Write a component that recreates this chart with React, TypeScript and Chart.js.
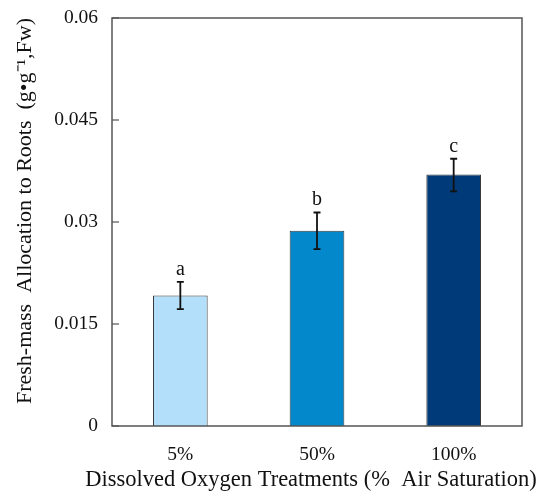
import { useEffect, useRef } from "react";
import { Chart, registerables, Plugin } from "chart.js";

Chart.register(...registerables);

const categories = ["5%", "50%", "100%"];
const means = [0.0192, 0.0287, 0.0370];
const errLow = [0.0172, 0.0260, 0.0345];
const errHigh = [0.0212, 0.0314, 0.0393];
const groupLetters = ["a", "b", "c"];
const barColors = ["#b3dffa", "#0388cc", "#003a78"];
const yTicks = ["0", "0.015", "0.03", "0.045", "0.06"];
const xTitle = "Dissolved Oxygen Treatments (%  Air Saturation)";
const yTitle = "Fresh-mass  Allocation to Roots  (g\u2022g\u207B\u00B9,Fw)";

const SERIF = "'Liberation Serif', 'Times New Roman', serif";

// frame, inward y ticks, error bars, letters and both axis titles
// (Chart.js squeezes axis titles to the axis width, the original overhangs it)
const extras: Plugin<"bar"> = {
  id: "extras",
  afterDatasetsDraw(chart) {
    const { ctx, chartArea, scales } = chart;
    const x = scales.x;
    const y = scales.y;
    ctx.save();

    ctx.strokeStyle = "#555";
    ctx.lineWidth = 1.5;
    ctx.strokeRect(chartArea.left, chartArea.top, chartArea.right - chartArea.left, chartArea.bottom - chartArea.top);

    ctx.lineWidth = 1.2;
    y.ticks.forEach((t) => {
      const py = y.getPixelForValue(t.value);
      ctx.beginPath();
      ctx.moveTo(chartArea.left, py);
      ctx.lineTo(chartArea.left + 7, py);
      ctx.stroke();
    });

    ctx.strokeStyle = "#111";
    ctx.fillStyle = "#111";
    ctx.lineWidth = 1.8;
    ctx.font = "20px " + SERIF;
    ctx.textAlign = "center";
    ctx.textBaseline = "alphabetic";
    categories.forEach((_, i) => {
      const px = x.getPixelForValue(i);
      const top = y.getPixelForValue(errHigh[i]);
      const bot = y.getPixelForValue(errLow[i]);
      ctx.beginPath();
      ctx.moveTo(px, top);
      ctx.lineTo(px, bot);
      ctx.moveTo(px - 3.5, top);
      ctx.lineTo(px + 3.5, top);
      ctx.moveTo(px - 3.5, bot);
      ctx.lineTo(px + 3.5, bot);
      ctx.stroke();
      ctx.fillText(groupLetters[i], px, top - 7);
    });

    ctx.textBaseline = "middle";

    ctx.font = "22.5px " + SERIF;
    ctx.fillText(xTitle, 311, 480);

    ctx.font = "22px " + SERIF;
    ctx.translate(25, 211);
    ctx.rotate(-Math.PI / 2);
    ctx.fillText(yTitle, 0, 0);

    ctx.restore();
  },
};

export default function App() {
  const canvasRef = useRef<HTMLCanvasElement>(null);

  useEffect(() => {
    document.body.style.margin = "0";
    if (!canvasRef.current) return;
    const chart = new Chart(canvasRef.current, {
      type: "bar",
      data: {
        labels: categories,
        datasets: [
          {
            data: means,
            backgroundColor: barColors,
            borderColor: "#3a3a3a",
            borderWidth: 1,
            barPercentage: 0.4,
            categoryPercentage: 1,
          },
        ],
      },
      options: {
        animation: false,
        responsive: false,
        devicePixelRatio: 1,
        layout: { padding: { top: 18, right: 28, left: 0, bottom: 0 } },
        plugins: {
          legend: { display: false },
          tooltip: { enabled: false },
        },
        scales: {
          x: {
            grid: { display: false, drawTicks: false },
            border: { display: false },
            ticks: { color: "#111", padding: 17, font: { family: SERIF, size: 19.5 } },
            afterFit: (s) => {
              s.height = 77;
            },
          },
          y: {
            min: 0,
            max: 0.06,
            grid: { display: false, drawTicks: false },
            border: { display: false },
            ticks: {
              stepSize: 0.015,
              color: "#111",
              padding: 14,
              font: { family: SERIF, size: 19.5 },
              callback: (_v, i) => yTicks[i],
            },
            afterFit: (s) => {
              s.width = 112;
              s.paddingTop = 0;
              s.paddingBottom = 0;
            },
          },
        },
      },
      plugins: [extras],
    });
    return () => chart.destroy();
  }, []);

  return (
    <div style={{ width: 550, height: 503, background: "#fff" }}>
      <canvas ref={canvasRef} width={550} height={503} />
    </div>
  );
}
